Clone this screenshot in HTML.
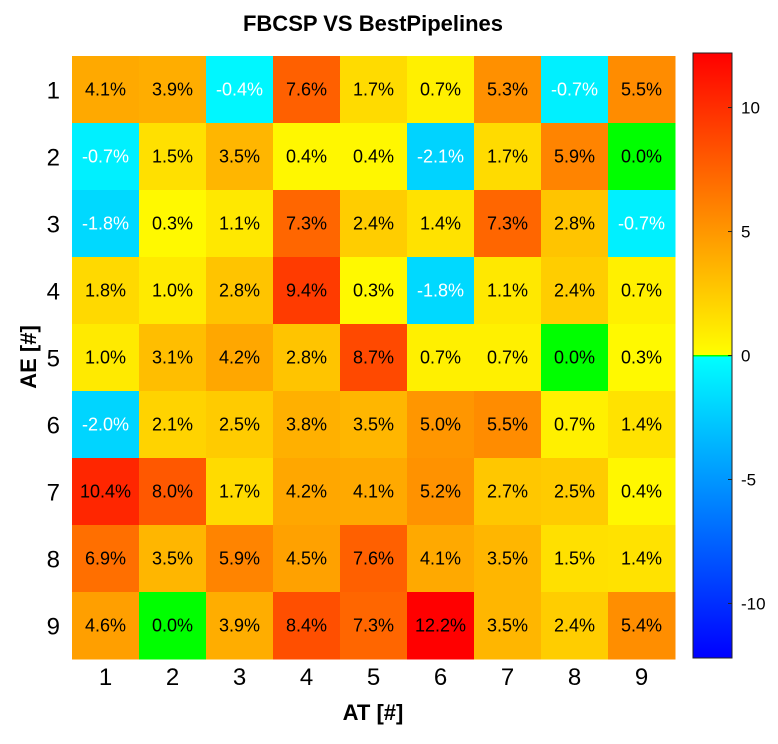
<!DOCTYPE html>
<html><head><meta charset="utf-8"><style>
body{margin:0;background:#fff;font-family:"Liberation Sans",Arial,sans-serif}
svg text{font-family:"Liberation Sans",Arial,sans-serif}
</style></head><body>
<svg id="chart" width="778" height="739">
<text x="373" y="31" text-anchor="middle" font-size="22" font-weight="bold">FBCSP VS BestPipelines</text>
<text x="373" y="720" text-anchor="middle" font-size="22" font-weight="bold">AT [#]</text>
<text transform="translate(36,357) rotate(-90)" text-anchor="middle" font-size="22" font-weight="bold">AE [#]</text>
<g id="cells"></g><g id="xt"></g><g id="yt"></g><g id="cb"></g>
</svg>
<script>
const rowLabels=[1,2,3,4,5,6,7,8,9];
const colLabels=[1,2,3,4,5,6,7,8,9];
const values=[
[4.1,3.9,-0.4,7.6,1.7,0.7,5.3,-0.7,5.5],
[-0.7,1.5,3.5,0.4,0.4,-2.1,1.7,5.9,0.0],
[-1.8,0.3,1.1,7.3,2.4,1.4,7.3,2.8,-0.7],
[1.8,1.0,2.8,9.4,0.3,-1.8,1.1,2.4,0.7],
[1.0,3.1,4.2,2.8,8.7,0.7,0.7,0.0,0.3],
[-2.0,2.1,2.5,3.8,3.5,5.0,5.5,0.7,1.4],
[10.4,8.0,1.7,4.2,4.1,5.2,2.7,2.5,0.4],
[6.9,3.5,5.9,4.5,7.6,4.1,3.5,1.5,1.4],
[4.6,0.0,3.9,8.4,7.3,12.2,3.5,2.4,5.4]];
const cbTicks=[10,5,0,-5,-10];
const vmax=12.2;
const NS="http://www.w3.org/2000/svg";
const X0=72,Y0=56,W=603,H=603;
const cw=W/colLabels.length, ch=H/rowLabels.length;
function xs(i){return X0+i*cw;}
function ys(j){return Y0+j*ch;}
function color(v){
 if(v===0) return "rgb(0,255,0)";
 const t=Math.min(Math.abs(v)/vmax,1);
 if(v>0) return `rgb(255,${Math.round(255*(1-t))},0)`;
 return `rgb(0,${Math.round(255*(1-t))},255)`;
}
function mk(tag,attrs,parent,txt){const e=document.createElementNS(NS,tag);for(const k in attrs)e.setAttribute(k,attrs[k]);if(txt!==undefined)e.textContent=txt;parent.appendChild(e);return e;}
const cells=document.getElementById('cells');
values.forEach((row,r)=>row.forEach((v,c)=>{
 const rect=mk('rect',{x:xs(c),y:ys(r),width:cw+0.5,height:ch+0.5,fill:color(v)},cells);
 
 
 const t=mk('text',{x:xs(c)+cw/2,y:ys(r)+ch/2+6,'text-anchor':'middle','font-size':18,fill:v<0?'#fff':'#000'},cells,v.toFixed(1)+'%');
 
 
}));
const xt=document.getElementById('xt');
colLabels.forEach((l,i)=>{const t=mk('text',{x:xs(i)+cw/2,y:685,'text-anchor':'middle','font-size':24},xt,l);
 
 });
const yt=document.getElementById('yt');
rowLabels.forEach((l,i)=>{const t=mk('text',{x:60,y:ys(i)+ch/2+9,'text-anchor':'end','font-size':24},yt,l);
 
 });
const cb=document.getElementById('cb');
const CX=693,CW=39,CT=53,CB=658;
function cy(v){return CT+(vmax-v)/(2*vmax)*(CB-CT);}
const defs=mk('defs',{},cb);
const lg=mk('linearGradient',{id:'g',x1:0,y1:0,x2:0,y2:1},defs);
[[0,'rgb(255,0,0)'],[0.4995,'rgb(255,255,0)'],[0.4995,'rgb(0,255,0)'],[0.5015,'rgb(0,255,0)'],[0.5015,'rgb(0,255,255)'],[1,'rgb(0,0,255)']].forEach(s=>mk('stop',{offset:s[0],'stop-color':s[1]},lg));
const bar=mk('rect',{x:CX,y:CT,width:CW,height:CB-CT,fill:'url(#g)',stroke:'#222','stroke-width':1},cb);


cbTicks.forEach(v=>{const y=cy(v);
 mk('line',{x1:CX+CW-4,x2:CX+CW,y1:y,y2:y,stroke:'#222'},cb);
 const t=mk('text',{x:CX+CW+9,y:y+6,'font-size':17},cb,v);
 
 });
</script>
</body></html>
